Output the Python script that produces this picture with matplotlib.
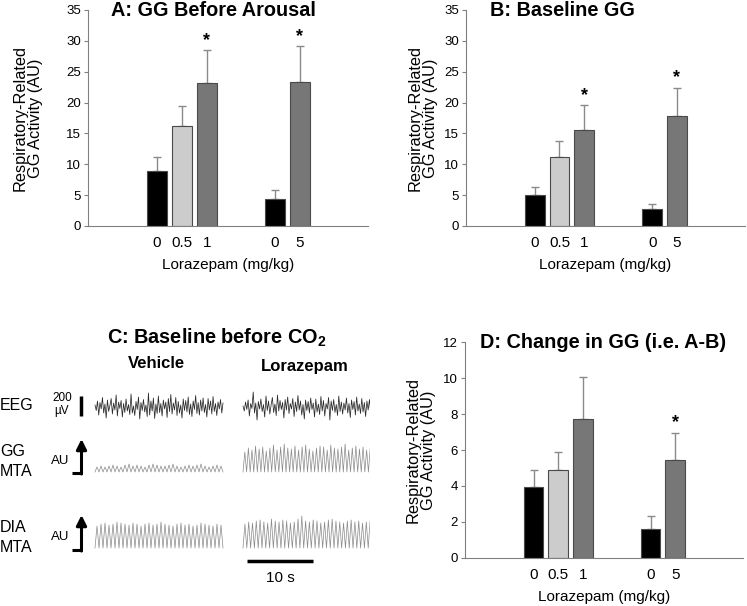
import matplotlib

matplotlib.use("Agg")
import matplotlib.pyplot as plt
import numpy as np

plt.rcParams["font.family"] = ["Liberation Sans", "DejaVu Sans"]
plt.rcParams["mathtext.fontset"] = "custom"
plt.rcParams["mathtext.rm"] = "Liberation Sans"
plt.rcParams["mathtext.bf"] = "Liberation Sans:bold"

# ---- bar data (means and top of the SEM bar) ----
dose_labels = ["0", "0.5", "1", "0", "5"]
bar_colors = ["#000000", "#cccccc", "#777777", "#000000", "#777777"]

a_means = [8.95, 16.15, 23.2, 4.4, 23.3]
a_tops = [11.2, 19.4, 28.5, 5.8, 29.1]
a_stars = [2, 4]

b_means = [5.0, 11.25, 15.5, 2.8, 17.9]
b_tops = [6.4, 13.8, 19.6, 3.6, 22.4]
b_stars = [2, 4]

d_means = [3.96, 4.87, 7.73, 1.62, 5.46]
d_tops = [4.87, 5.87, 10.05, 2.36, 6.95]
d_stars = [4]

# ---- example traces (panel C) ----
eeg_vehicle = [20, -35, 60, -80, 45, -20, 95, -60, 30, -110, 70, -45, 15, 85, -70, 40,
               -30, 120, -90, 50, -15, 65, -100, 35, -55, 80, -40, 25, -75, 130, -60, 10,
               -85, 55, -25, 100, -120, 45, -35, 75, -50, 20, -95, 140, -80, 60, -40, 90,
               -115, 30, -65, 110, -55, 35, -90, 70, -20, 50, -105, 85, -45, 125, -70, 40,
               -30, 95, -85, 55, -60, 20, -110, 80, -35, 65, -50, 100, -75, 30, -95, 60,
               -25, 115, -65, 45, -80, 70, -40, 90, -55, 25, -100, 85, -30, 60, -70, 105,
               -45, 35, -85, 50, -20, 75, -60, 40]
eeg_loraz = [10, -40, 50, -25, 70, -90, 35, -15, 150, -60, 40, -130, 55, -20, 80, -45,
             25, -100, 110, -35, 60, -70, 20, 95, -55, 30, -85, 120, -40, 65, -25, 45,
             -110, 75, -30, 100, -65, 35, -20, 85, -95, 50, -45, 115, -30, 60, -80, 25,
             -120, 70, -35, 55, -60, 90, -25, 40, -100, 80, -50, 30, -75, 105, -40, 65,
             -90, 35, -20, 95, -130, 60, -35, 75, -55, 25, -85, 110, -45, 50, -70, 40,
             -30, 90, -60, 35, -105, 70, -25, 55, -80, 100, -40, 30, -65, 85, -50, 45,
             -95, 60, -30, 75, -55, 40]
gg_vehicle = [5, 6, 5, 6, 7, 6, 5, 7, 8, 6, 7, 6, 5, 7, 8, 7, 6, 6, 7, 8, 6, 5, 6, 7,
              6, 7, 8, 6, 5, 6, 7, 6]
gg_loraz = [20, 24, 22, 26, 23, 25, 21, 24, 27, 22, 25, 28, 24, 23, 26, 22, 25, 27, 23,
            21, 24, 26, 25, 22, 27, 24, 23, 25, 28, 22, 24, 26, 23, 25, 22, 24]
dia_vehicle = [22, 24, 25, 23, 24, 26, 25, 24, 23, 25, 24, 22, 24, 25, 23, 24, 26, 24,
               23, 22, 24, 25, 23, 24, 22, 23, 25, 24, 23, 22, 24, 23]
dia_loraz = [24, 26, 25, 27, 28, 26, 25, 29, 27, 26, 28, 27, 25, 26, 29, 32, 27, 26, 28,
             27, 25, 26, 28, 29, 27, 26, 25, 27, 28, 26, 27, 25, 26, 27]

W, H = 747, 606
positions = [0, 1, 2, 4.75, 5.75]
AXIS_GRAY = "#808080"


def px_rect(left, top, right, bottom):
    return [left / W, 1 - bottom / H, (right - left) / W, (bottom - top) / H]


def bar_panel(fig, rect, means, tops, stars, ymax, ystep, title, title_x, ylab_off):
    ax = fig.add_axes(rect)
    means = np.array(means)
    err = np.array(tops) - means
    ax.errorbar(positions, means, yerr=[np.zeros_like(err), err], fmt="none",
                ecolor="#8a8a8a", elinewidth=1.0, capsize=2.6, capthick=1.0, zorder=1)
    ax.bar(positions, means, width=0.8, color=bar_colors, edgecolor="#4a4a4a",
           linewidth=0.8, zorder=2)
    for i in stars:
        ax.annotate("*", (positions[i], tops[i]), xytext=(0, 1), textcoords="offset points",
                    ha="center", va="bottom", fontsize=13, fontweight="bold")
    ax.set_xlim(-2.78, 8.5)
    ax.set_ylim(0, ymax)
    ax.set_yticks(np.arange(0, ymax + 0.01, ystep))
    ax.set_xticks(positions, dose_labels)
    for s in ("top", "right"):
        ax.spines[s].set_visible(False)
    for s in ("left", "bottom"):
        ax.spines[s].set_color(AXIS_GRAY)
    ax.tick_params(axis="y", direction="out", length=3, color=AXIS_GRAY, labelsize=9.5, pad=2)
    ax.tick_params(axis="x", length=0, labelsize=11, pad=7)
    ax.set_xlabel("Lorazepam (mg/kg)", fontsize=11, labelpad=6)
    ax.set_ylabel("Respiratory-Related\nGG Activity (AU)", fontsize=11.8, linespacing=1.05)
    # label coords mark the right edge of the rotated two-line label
    ax.yaxis.set_label_coords(-ylab_off / (rect[2] * W), 0.5)
    top_px = (1 - rect[1] - rect[3]) * H
    fig.text(title_x / W, 1 - top_px / H, title, ha="center", va="center",
             fontsize=14.3, fontweight="bold")
    return ax


fig = plt.figure(figsize=(W / 100, H / 100), dpi=100)

bar_panel(fig, px_rect(88, 10, 368, 226), a_means, a_tops, a_stars, 35, 5,
          "A: GG Before Arousal", 213, 45)
bar_panel(fig, px_rect(466, 10, 745, 226), b_means, b_tops, b_stars, 35, 5,
          "B: Baseline GG", 562, 28)
bar_panel(fig, px_rect(465, 342, 743, 558), d_means, d_tops, d_stars, 12, 2,
          "D: Change in GG (i.e. A-B)", 603, 29)

# ---- panel C: traces laid out in pixel units ----
cax = fig.add_axes([0, 0, 370 / W, 306 / H])
cax.set_xlim(0, 370)
cax.set_ylim(606, 300)
cax.axis("off")

cax.text(217, 338, r"C: Baseline before CO$_\mathbf{2}$", ha="center", va="center",
         fontsize=14.3, fontweight="bold")
cax.text(156, 364, "Vehicle", ha="center", va="center", fontsize=12, fontweight="bold")
cax.text(305, 366, "Lorazepam", ha="center", va="center", fontsize=12, fontweight="bold")


def zigzag(peaks):
    vals = [0.0]
    for p in peaks:
        vals += [p, 0.0]
    return np.array(vals)


def draw_trace(values, x0, x1, base, scale, color, lw):
    values = np.asarray(values, dtype=float)
    xs = np.linspace(x0, x1, len(values))
    cax.plot(xs, base - values * scale, color=color, lw=lw, clip_on=True)


draw_trace(eeg_vehicle, 95, 223, 407, 0.1, "#2a2a2a", 0.55)
draw_trace(eeg_loraz, 243, 372, 407, 0.1, "#2a2a2a", 0.55)
draw_trace(zigzag(gg_vehicle), 95, 223, 472, 1.0, "#8a8a8a", 0.5)
draw_trace(zigzag(gg_loraz), 243, 372, 472, 1.0, "#8a8a8a", 0.5)
draw_trace(zigzag(dia_vehicle), 95, 223, 548, 1.0, "#8a8a8a", 0.5)
draw_trace(zigzag(dia_loraz), 243, 372, 548, 1.0, "#8a8a8a", 0.5)

# row labels and scale markers
for label, y in [("EEG", 405), ("GG", 451), ("MTA", 471), ("DIA", 528), ("MTA", 548)]:
    cax.text(0, y, label, ha="left", va="center", fontsize=11.5)
cax.text(62, 398, "200", ha="center", va="center", fontsize=8.5)
cax.text(62, 411, "\u00b5V", ha="center", va="center", fontsize=8.5)
cax.plot([81, 81], [396, 416], color="k", lw=2.5, solid_capstyle="butt")

for base, top, ylab in [(473, 439, 461), (550, 515, 537)]:
    cax.text(60, ylab, "AU", ha="center", va="center", fontsize=9.5)
    cax.plot([72, 81.5], [base, base], color="k", lw=2.2, solid_capstyle="butt")
    cax.annotate("", xy=(81.5, top), xytext=(81.5, base + 1),
                 arrowprops=dict(arrowstyle="-|>,head_length=0.6,head_width=0.3",
                                 lw=2.2, color="k", shrinkA=0, shrinkB=0))

cax.plot([247, 313], [561, 561], color="k", lw=2.5, solid_capstyle="butt")
cax.text(280, 578, "10 s", ha="center", va="center", fontsize=11)

fig.savefig("out.png", dpi=100)
